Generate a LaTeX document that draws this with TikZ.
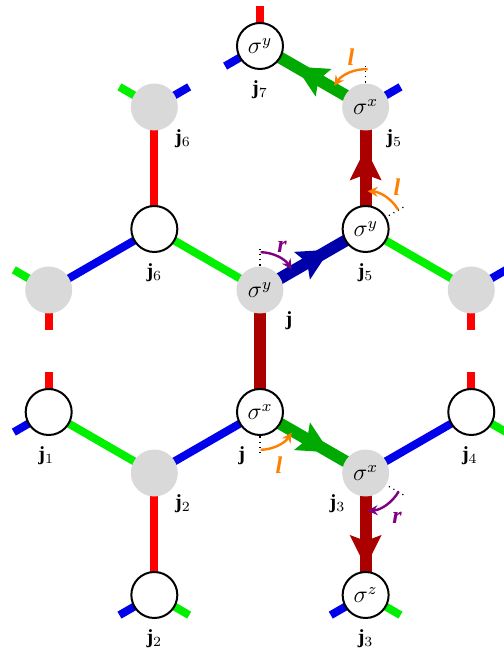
\documentclass[tikz,border=0pt]{standalone}
\usepackage{fontspec}
\setmainfont{Liberation Serif}
\usetikzlibrary{arrows.meta,calc,backgrounds,decorations.markings}
\definecolor{bondR}{RGB}{255,0,0}
\definecolor{bondB}{RGB}{0,0,235}
\definecolor{bondG}{RGB}{0,240,0}
\definecolor{darkR}{RGB}{170,0,0}
\definecolor{darkB}{RGB}{0,0,170}
\definecolor{darkG}{RGB}{0,170,0}
\definecolor{siteg}{RGB}{217,217,217}
\definecolor{lturn}{RGB}{255,128,0}
\definecolor{rturn}{RGB}{128,0,128}

\begin{document}
\begin{tikzpicture}[x=61pt,y=61pt,
  ws/.style={circle,draw=black,line width=1pt,fill=white,minimum size=23pt,inner sep=0pt,font=\large},
  gs/.style={circle,fill=siteg,minimum size=23.5pt,inner sep=0pt,font=\large},
  lab/.style={font=\normalsize},
  xb/.style={line width=4pt,bondR},
  yb/.style={line width=4pt,bondB},
  zb/.style={line width=4pt,bondG},
  hv/.style={line width=6pt,#1},
  arr/.style={postaction={decorate},decoration={markings,
    mark=at position #1 with {\arrow{Stealth[length=16pt,width=16pt,inset=3pt,line width=0pt]}}}},
  dotl/.style={dotted,line width=0.6pt},
  turnl/.style={lturn,line width=1.2pt,-{Stealth[length=5pt,width=5pt]}},
  turnr/.style={rturn,line width=1.2pt,-{Stealth[length=5pt,width=5pt]}},
  tl/.style={lturn,font=\large\bfseries\itshape},
  tr/.style={rturn,font=\large\bfseries\itshape}]
\useasboundingbox (-2.131,-1.959) rectangle (2.0,3.377);
% sites
\node[ws] (w7) at (0,3) {$\sigma^y$};
\node[gs] (g6) at (-0.866,2.5) {};
\node[gs] (g5) at (0.866,2.5) {$\sigma^x$};
\node[ws] (w6) at (-0.866,1.5) {};
\node[ws] (w5) at (0.866,1.5) {$\sigma^y$};
\node[gs] (gA) at (-1.732,1) {};
\node[gs] (g0) at (0,1) {$\sigma^y$};
\node[gs] (gB) at (1.732,1) {};
\node[ws] (w1) at (-1.732,0) {};
\node[ws] (w0) at (0,0) {$\sigma^x$};
\node[ws] (w4) at (1.732,0) {};
\node[gs] (g2) at (-0.866,-0.5) {};
\node[gs] (g3) at (0.866,-0.5) {$\sigma^x$};
\node[ws] (v2) at (-0.866,-1.5) {};
\node[ws] (v3) at (0.866,-1.5) {$\sigma^z$};
% site labels
\node[lab] (t7) at (0,2.645) {$\mathbf{j}_7$};
\node[lab] (t6a) at (-0.631,2.24) {$\mathbf{j}_6$};
\node[lab] (t5a) at (1.101,2.24) {$\mathbf{j}_5$};
\node[lab] (t6b) at (-0.866,1.145) {$\mathbf{j}_6$};
\node[lab] (t5b) at (0.866,1.145) {$\mathbf{j}_5$};
\node[lab] (tj) at (0.238,0.75) {$\mathbf{j}$};
\node[lab] (t1) at (-1.752,-0.355) {$\mathbf{j}_1$};
\node[lab] (tJ) at (-0.15,-0.36) {$\mathbf{j}$};
\node[lab] (t4) at (1.72,-0.355) {$\mathbf{j}_4$};
\node[lab] (t2a) at (-0.631,-0.755) {$\mathbf{j}_2$};
\node[lab] (t3a) at (0.635,-0.755) {$\mathbf{j}_3$};
\node[lab] (t2b) at (-0.866,-1.855) {$\mathbf{j}_2$};
\node[lab] (t3b) at (0.866,-1.855) {$\mathbf{j}_3$};
\begin{scope}[on background layer]
% x bonds (vertical)
\draw[xb] (g6.center) -- (w6.center);
\draw[xb] (g2.center) -- (v2.center);
\draw[hv=darkR] (g0.center) -- (w0.center);
\draw[hv=darkR,arr=0.66] (w5.center) -- (g5.center);
\draw[hv=darkR,arr=0.77] (g3.center) -- (v3.center);
% y bonds
\draw[yb] (w6.center) -- (gA.center);
\draw[yb] (w0.center) -- (g2.center);
\draw[yb] (w4.center) -- (g3.center);
\draw[hv=darkB,arr=0.66] (g0.center) -- (w5.center);
% z bonds
\draw[zb] (w6.center) -- (g0.center);
\draw[zb] (w5.center) -- (gB.center);
\draw[zb] (w1.center) -- (g2.center);
\draw[hv=darkG,arr=0.66] (w0.center) -- (g3.center);
\draw[hv=darkG,arr=0.66] (g5.center) -- (w7.center);
% dangling bonds
\foreach \s/\a in {w7/90,gA/270,gB/270,w1/90,w4/90}
  \draw[xb] (\s.center) -- +(\a:0.33);
\foreach \s/\a in {w7/210,g5/30,g6/30,gB/30,w1/210,v2/210,v3/210}
  \draw[yb] (\s.center) -- +(\a:0.33);
\foreach \s/\a in {g6/150,gA/150,w4/330,v2/330,v3/330}
  \draw[zb] (\s.center) -- +(\a:0.33);
\end{scope}
% turns
\draw[dotl] ($(g5)+(90:0.2)$) -- ($(g5)+(90:0.36)$);
\draw[turnl] ($(g5)+(87:0.31)$) arc[start angle=87,end angle=146,radius=0.31];
\node[tl] (lt1) at (0.746,2.91) {l};
\draw[dotl] ($(w5)+(30:0.22)$) -- ($(w5)+(30:0.36)$);
\draw[turnl] ($(w5)+(31:0.31)$) arc[start angle=31,end angle=87,radius=0.31];
\node[tl] (lt2) at (1.123,1.844) {l};
\draw[dotl] ($(g0)+(90:0.2)$) -- ($(g0)+(90:0.36)$);
\draw[turnr] ($(g0)+(89:0.31)$) arc[start angle=89,end angle=33,radius=0.31];
\node[tr] (rt1) at (0.18,1.352) {r};
\draw[dotl] ($(w0)+(270:0.2)$) -- ($(w0)+(270:0.36)$);
\draw[turnl] ($(w0)+(271:0.31)$) arc[start angle=271,end angle=327,radius=0.31];
\node[tl] (lt3) at (0.156,-0.434) {l};
\draw[dotl] ($(g3)+(330:0.22)$) -- ($(g3)+(330:0.36)$);
\draw[turnr] ($(g3)+(331:0.31)$) arc[start angle=331,end angle=273,radius=0.31];
\node[tr] (rt2) at (1.123,-0.869) {r};
\end{tikzpicture}
\end{document}
